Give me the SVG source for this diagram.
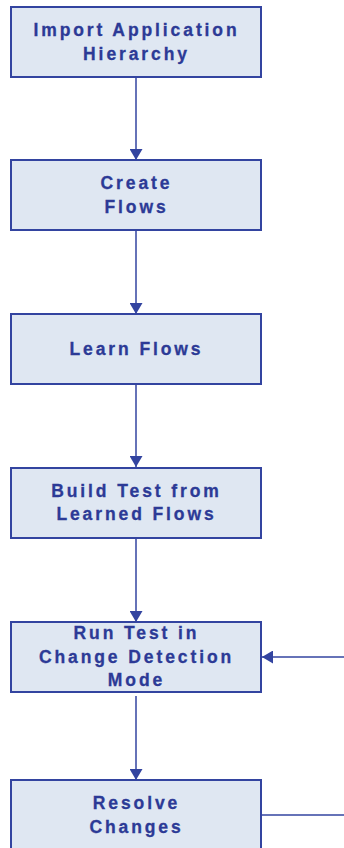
<svg xmlns="http://www.w3.org/2000/svg" width="344" height="848" viewBox="0 0 344 848">
<style>
.box{fill:#dfe7f2;stroke:#3344a0;stroke-width:2}
.lbl{font-family:"Liberation Sans",Arial,sans-serif;font-weight:bold;font-size:17.5px;letter-spacing:2.9px;fill:#2c3a96;stroke:#2c3a96;stroke-width:0.3;text-anchor:middle}
.conn{fill:none;stroke:#3344a0;stroke-width:1.5}
</style>
<defs>
<marker id="ah" markerWidth="11" markerHeight="13" refX="11" refY="6.5" orient="auto" markerUnits="userSpaceOnUse" viewBox="0 0 11 13">
<path d="M0,0 L11,6.5 L0,13 z" fill="#3344a0"/>
</marker>
</defs>
<rect width="344" height="848" fill="#ffffff"/>
<g id="connectors">
<line class="conn" x1="136" y1="77" x2="136" y2="160" marker-end="url(#ah)"/>
<line class="conn" x1="136" y1="230" x2="136" y2="314" marker-end="url(#ah)"/>
<line class="conn" x1="136" y1="384" x2="136" y2="467" marker-end="url(#ah)"/>
<line class="conn" x1="136" y1="538" x2="136" y2="622" marker-end="url(#ah)"/>
<line class="conn" x1="136" y1="696" x2="136" y2="780" marker-end="url(#ah)"/>
<polyline class="conn" points="262,815 344,815"/>
<line class="conn" x1="344" y1="657" x2="262" y2="657" marker-end="url(#ah)"/>
</g>
<g id="n1">
<rect class="box" x="11" y="7" width="250" height="70"/>
<text class="lbl" x="136.5" y="36">Import Application</text>
<text class="lbl" x="136.5" y="60">Hierarchy</text>
</g>
<g id="n2">
<rect class="box" x="11" y="160" width="250" height="70"/>
<text class="lbl" x="136.5" y="189">Create</text>
<text class="lbl" x="136.5" y="213">Flows</text>
</g>
<g id="n3">
<rect class="box" x="11" y="314" width="250" height="70"/>
<text class="lbl" x="136.5" y="355">Learn Flows</text>
</g>
<g id="n4">
<rect class="box" x="11" y="468" width="250" height="70"/>
<text class="lbl" x="136.5" y="497">Build Test from</text>
<text class="lbl" x="136.5" y="520">Learned Flows</text>
</g>
<g id="n5">
<rect class="box" x="11" y="622" width="250" height="70"/>
<text class="lbl" x="136.5" y="639">Run Test in</text>
<text class="lbl" x="136.5" y="663">Change Detection</text>
<text class="lbl" x="136.5" y="686">Mode</text>
</g>
<g id="n6">
<rect class="box" x="11" y="780" width="250" height="72"/>
<text class="lbl" x="136.5" y="809">Resolve</text>
<text class="lbl" x="136.5" y="833">Changes</text>
</g>
</svg>
